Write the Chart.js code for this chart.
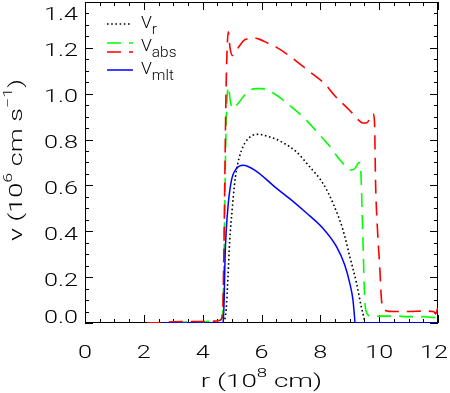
<!DOCTYPE html>
<html><head><meta charset="utf-8">
<script src="https://cdn.jsdelivr.net/npm/chart.js@4.4.0/dist/chart.umd.min.js"></script>
<style>html,body{margin:0;padding:0;background:#fff}</style>
</head><body>
<canvas id="c" width="450" height="393"></canvas>
<script>
// ---- data (r in 10^8 cm, v in 10^6 cm/s) ----
const r_vr = [4.70, 4.76, 4.80, 4.86, 4.92, 5.00, 5.08, 5.15, 5.32, 5.55, 5.89, 6.22, 6.68, 7.19, 7.64, 8.09, 8.43, 8.77, 9.00, 9.23, 9.39, 9.47, 9.52];
const v_vr = [0.0, 0.02, 0.06, 0.20, 0.36, 0.49, 0.60, 0.667, 0.753, 0.804, 0.823, 0.814, 0.79, 0.746, 0.681, 0.609, 0.522, 0.406, 0.29, 0.174, 0.072, 0.03, 0.0];

const r_green = [3.0, 3.5, 4.0, 4.5, 4.65, 4.70, 4.74, 4.78, 4.82, 4.87, 4.95, 5.03, 5.12, 5.24, 5.40, 5.58, 5.83, 6.0, 6.34, 6.96, 7.53, 8.04, 8.38, 8.54, 8.77, 8.95, 9.06, 9.18, 9.28, 9.33, 9.38, 9.45, 9.51, 9.56, 9.62, 9.8, 10.5, 11.0, 11.5, 11.8, 11.95, 12.0];
const v_green = [0.003, 0.004, 0.005, 0.01, 0.02, 0.10, 0.40, 0.75, 0.95, 1.029, 0.96, 0.935, 0.945, 0.963, 0.99, 1.014, 1.022, 1.022, 1.007, 0.949, 0.884, 0.811, 0.761, 0.732, 0.696, 0.672, 0.667, 0.675, 0.696, 0.70, 0.65, 0.35, 0.10, 0.05, 0.035, 0.03, 0.03, 0.028, 0.028, 0.024, 0.025, 0.04];

const r_red = [2.1, 2.6, 3.0, 3.5, 4.0, 4.4, 4.6, 4.68, 4.72, 4.76, 4.80, 4.84, 4.87, 4.93, 5.01, 5.10, 5.26, 5.43, 5.77, 5.94, 6.22, 6.5, 7.0, 7.3, 7.7, 8.15, 8.5, 9.0, 9.34, 9.45, 9.56, 9.68, 9.75, 9.79, 9.84, 9.88, 9.95, 10.02, 10.08, 10.2, 10.5, 11.0, 11.5, 11.85, 11.92, 12.0];
const v_red = [0.0, 0.002, 0.005, 0.006, 0.006, 0.008, 0.012, 0.05, 0.30, 0.70, 1.05, 1.22, 1.27, 1.20, 1.167, 1.18, 1.21, 1.235, 1.242, 1.237, 1.22, 1.203, 1.16, 1.13, 1.09, 1.043, 0.99, 0.927, 0.88, 0.872, 0.872, 0.89, 0.91, 0.913, 0.88, 0.60, 0.39, 0.245, 0.10, 0.055, 0.05, 0.05, 0.052, 0.05, 0.04, 0.07];

const r_mlt = [2.6, 4.68, 4.70, 4.73, 4.76, 4.80, 4.87, 4.98, 5.15, 5.38, 5.77, 6.45, 7.0, 7.5, 8.09, 8.55, 8.83, 9.00, 9.11, 9.16, 9.18, 12.0];
const v_mlt = [0.0, 0.0, 0.01, 0.10, 0.28, 0.40, 0.52, 0.623, 0.674, 0.688, 0.667, 0.594, 0.538, 0.483, 0.413, 0.333, 0.253, 0.174, 0.10, 0.03, 0.0, 0.0];

const xTicks = [0, 2, 4, 6, 8, 10, 12];
const yTicks = [0.0, 0.2, 0.4, 0.6, 0.8, 1.0, 1.2, 1.4];

const pts = (r, v) => r.map((x, i) => ({x: x, y: v[i]}));
const FONT = "Roboto, 'Liberation Sans', Arial, sans-serif";
const W = '300 ';

// draws text segments, stretched horizontally (sx) like the IDL vector font
function drawRich(ctx, segs, x, y, align, sx) {
  sx = sx || 1;
  let w = 0;
  segs.forEach(s => { ctx.font = W + s.size + 'px ' + FONT; s.w = ctx.measureText(s.t).width * sx; w += s.w; });
  let cx = align === 'center' ? x - w / 2 : (align === 'right' ? x - w : x);
  ctx.textAlign = 'left'; ctx.textBaseline = 'alphabetic';
  segs.forEach(s => {
    ctx.save();
    ctx.font = W + s.size + 'px ' + FONT;
    ctx.translate(cx, y + (s.dy || 0));
    ctx.scale(sx, 1);
    ctx.fillText(s.t, 0, 0);
    ctx.restore();
    cx += s.w;
  });
  return w;
}

const frame = {
  id: 'frame',
  beforeDatasetsDraw(chart) {
    const ctx = chart.ctx, a = chart.chartArea, xs = chart.scales.x, ys = chart.scales.y;
    ctx.save();
    ctx.strokeStyle = '#000'; ctx.lineWidth = 1;
    ctx.strokeRect(a.left + 0.5, a.top + 0.5, a.right - a.left - 1, a.bottom - a.top - 1);
    ctx.beginPath();
    for (let k = 0; k <= 24; k++) {
      const v = k * 0.5, p = Math.round(xs.getPixelForValue(v)) + 0.5;
      const L = (k % 4 === 0) ? 8 : 4;
      ctx.moveTo(p, a.bottom); ctx.lineTo(p, a.bottom - L);
      ctx.moveTo(p, a.top); ctx.lineTo(p, a.top + L);
    }
    for (let k = 0; k <= 28; k++) {
      const v = k * 0.05, p = Math.round(ys.getPixelForValue(v)) + 0.5;
      const L = (k % 4 === 0) ? 8 : 4;
      ctx.moveTo(a.left, p); ctx.lineTo(a.left + L, p);
      ctx.moveTo(a.right, p); ctx.lineTo(a.right - L, p);
    }
    ctx.stroke();
    // tick labels from the library's scales
    ctx.fillStyle = '#000';
    xs.ticks.forEach(t => {
      const p = xs.getPixelForValue(t.value);
      ctx.font = W + '18px ' + FONT;
      const w = ctx.measureText(String(t.value)).width * 1.4;
      let c = p;
      if (c + w / 2 > chart.width - 2) c = chart.width - 2 - w / 2;
      drawRich(ctx, [{t: String(t.value), size: 18}], c, a.bottom + 35, 'center', 1.4);
    });
    ys.ticks.forEach(t => {
      let c = ys.getPixelForValue(t.value) + 2;
      c = Math.max(a.top + 11, Math.min(a.bottom - 7, c));
      drawRich(ctx, [{t: Number(t.value).toFixed(1), size: 18}], a.left - 7, c + 6.5, 'right', 1.4);
    });
    ctx.restore();
  },
  afterDraw(chart) {
    const ctx = chart.ctx, a = chart.chartArea;
    ctx.save();
    ctx.fillStyle = '#000';
    // axis titles
    drawRich(ctx, [{t: 'r (10', size: 18}, {t: '8', size: 12, dy: -10}, {t: ' cm)', size: 18}], (a.left + a.right) / 2, 387, 'center', 1.55);
    ctx.translate(21.5, 160);
    ctx.rotate(-Math.PI / 2);
    drawRich(ctx, [{t: 'v (10', size: 18}, {t: '6', size: 12, dy: -10}, {t: ' cm s', size: 18}, {t: '\u22121', size: 12, dy: -10}, {t: ')', size: 18}], 0, 0, 'center', 1.5);
    ctx.restore();
    // legend
    ctx.save();
    const items = [
      {ds: 0, y: 24, x2: 130},
      {ds: 1, y: 43, x2: 133},
      {ds: 2, y: 52, x2: 133},
      {ds: 3, y: 70, x2: 133}
    ];
    items.forEach(it => {
      const d = chart.data.datasets[it.ds];
      ctx.strokeStyle = d.borderColor; ctx.lineWidth = d.borderWidth;
      ctx.setLineDash(d.borderDash || []);
      ctx.beginPath(); ctx.moveTo(107, it.y); ctx.lineTo(it.x2, it.y); ctx.stroke();
    });
    ctx.setLineDash([]);
    ctx.fillStyle = '#000';
    const labels = [['V', 'r', 27.5], ['V', 'abs', 50.5], ['V', 'mlt', 74]];
    labels.forEach(l => drawRich(ctx, [{t: l[0], size: 16}, {t: l[1], size: 14, dy: 6}], 141, l[2], 'left', 1.1));
    ctx.restore();
  }
};

new Chart(document.getElementById('c'), {
  type: 'line',
  data: {
    datasets: [
      {label: 'V_r', data: pts(r_vr, v_vr), borderColor: '#000000', borderWidth: 1.6, borderDash: [1.6, 2.6], order: 3},
      {label: 'V_abs', data: pts(r_green, v_green), borderColor: '#00ff00', borderWidth: 1.6, borderDash: [14, 8], order: 2},
      {label: 'V_abs (red)', data: pts(r_red, v_red), borderColor: '#ff0000', borderWidth: 1.6, borderDash: [14, 8], order: 1},
      {label: 'V_mlt', data: pts(r_mlt, v_mlt), borderColor: '#0000ff', borderWidth: 1.5, order: 0}
    ]
  },
  options: {
    responsive: false,
    animation: false,
    devicePixelRatio: 1,
    layout: {padding: {left: 0, right: 12, top: 2, bottom: 0}},
    elements: {point: {radius: 0}, line: {cubicInterpolationMode: 'monotone', fill: false}},
    plugins: {legend: {display: false}, tooltip: {enabled: false}},
    scales: {
      x: {
        type: 'linear', min: 0, max: 12,
        afterFit(s) { s.height = 70; },
        afterBuildTicks(s) { s.ticks = xTicks.map(v => ({value: v})); },
        grid: {display: false, drawTicks: false},
        border: {display: false},
        ticks: {display: false}
      },
      y: {
        type: 'linear', min: 0, max: 1.4,
        afterFit(s) { s.width = 85; },
        afterBuildTicks(s) { s.ticks = yTicks.map(v => ({value: v})); },
        grid: {display: false, drawTicks: false},
        border: {display: false},
        ticks: {display: false}
      }
    }
  },
  plugins: [frame]
});
</script>
</body></html>
